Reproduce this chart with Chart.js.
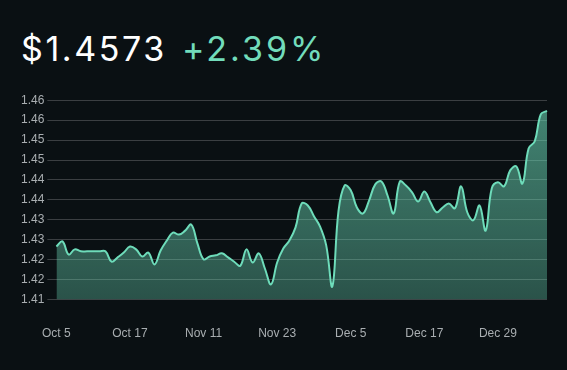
<!DOCTYPE html>
<html>
<head>
<meta charset="utf-8">
<script src="https://cdn.jsdelivr.net/npm/chart.js@4.4.1/dist/chart.umd.min.js"></script>
<style>
  html, body { margin: 0; padding: 0; background: #0a1013; }
  body { width: 567px; height: 370px; position: relative; overflow: hidden; font-family: Inter, "Noto Sans", sans-serif; }
  #head { position: absolute; left: 21px; top: 27px; font-size: 34px; line-height: 44px; color: #ffffff; white-space: nowrap; letter-spacing: 2.6px; }
  #head .chg { color: #72dcbb; margin-left: 15px; letter-spacing: 3px; }
  #priceChart { position: absolute; left: 0; top: 90px; }
</style>
</head>
<body>
<div id="head"><span>$1.4573</span><span class="chg">+2.39%</span></div>
<canvas id="priceChart" width="567" height="280"></canvas>
<script>
// daily closes, gap between Oct 28 and Nov 11
const dates = [
  'Oct 5', 'Oct 6', 'Oct 7', 'Oct 8', 'Oct 9', 'Oct 10', 'Oct 11', 'Oct 12', 'Oct 13', 'Oct 14',
  'Oct 15', 'Oct 16', 'Oct 17', 'Oct 18', 'Oct 19', 'Oct 20', 'Oct 21', 'Oct 22', 'Oct 23', 'Oct 24',
  'Oct 25', 'Oct 26', 'Oct 27', 'Oct 28', 'Nov 11', 'Nov 12', 'Nov 13', 'Nov 14', 'Nov 15', 'Nov 16',
  'Nov 17', 'Nov 18', 'Nov 19', 'Nov 20', 'Nov 21', 'Nov 22', 'Nov 23', 'Nov 24', 'Nov 25', 'Nov 26',
  'Nov 27', 'Nov 28', 'Nov 29', 'Nov 30', 'Dec 1', 'Dec 2', 'Dec 3', 'Dec 4', 'Dec 5', 'Dec 6',
  'Dec 7', 'Dec 8', 'Dec 9', 'Dec 10', 'Dec 11', 'Dec 12', 'Dec 13', 'Dec 14', 'Dec 15', 'Dec 16',
  'Dec 17', 'Dec 18', 'Dec 19', 'Dec 20', 'Dec 21', 'Dec 22', 'Dec 23', 'Dec 24', 'Dec 25', 'Dec 26',
  'Dec 27', 'Dec 28', 'Dec 29', 'Dec 30', 'Dec 31', 'Jan 1', 'Jan 2', 'Jan 3', 'Jan 4', 'Jan 5',
  'Jan 6'
];

const prices = [
  1.4233, 1.4246, 1.4213, 1.4226, 1.4221, 1.4221, 1.4221, 1.4221, 1.4221, 1.4195,
  1.4206, 1.4218, 1.4233, 1.4226, 1.4208, 1.4218, 1.4188, 1.4223, 1.4248, 1.4268,
  1.4263, 1.4273, 1.4288, 1.4241, 1.4201, 1.4208, 1.4211, 1.4216, 1.4206, 1.4195,
  1.4185, 1.4226, 1.4193, 1.4216, 1.4178, 1.4138, 1.4193, 1.4228, 1.4248, 1.4281,
  1.4341, 1.4336, 1.4309, 1.4283, 1.4236, 1.4133, 1.4322, 1.4386, 1.4374, 1.4331,
  1.4316, 1.4349, 1.4389, 1.4396, 1.4361, 1.4316, 1.4396, 1.4386, 1.4369, 1.4346,
  1.4371, 1.4344, 1.4319, 1.4331, 1.4341, 1.4329, 1.4384, 1.4319, 1.4299, 1.4336,
  1.4273, 1.4379, 1.4394, 1.4384, 1.4424, 1.4434, 1.4391, 1.4479, 1.4497, 1.4565,
  1.4573
];

const yTickLabels = ['1.41', '1.42', '1.42', '1.43', '1.43', '1.44', '1.44', '1.45', '1.45', '1.46', '1.46'];

const ctx = document.getElementById('priceChart');

const priceChart = new Chart(ctx, {
  type: 'line',
  data: {
    labels: dates,
    datasets: [{
      label: 'Price',
      data: prices,
      borderColor: '#6edcba',
      borderWidth: 2,
      pointRadius: 0,
      tension: 0.4,
      fill: 'start',
      backgroundColor: (c) => {
        const area = c.chart.chartArea;
        if (!area) return 'rgba(110,220,186,0.45)';
        const g = c.chart.ctx.createLinearGradient(0, area.top, 0, area.bottom);
        g.addColorStop(0, 'rgba(110,220,186,0.58)');
        g.addColorStop(1, 'rgba(110,220,186,0.33)');
        return g;
      }
    }]
  },
  options: {
    responsive: false,
    animation: false,
    layout: { padding: { left: 18, right: 20, top: 7, bottom: 26 } },
    plugins: { legend: { display: false }, tooltip: { enabled: false } },
    scales: {
      x: {
        // invisible tick marks only push the labels down
        grid: { display: true, drawOnChartArea: false, drawTicks: true, tickLength: 24, tickColor: 'rgba(0,0,0,0)' },
        border: { display: false },
        ticks: {
          autoSkip: false,
          maxRotation: 0,
          padding: 3,
          color: '#a9aeb1',
          font: { family: '"Liberation Sans", Arial, sans-serif', size: 12 },
          callback: (val, i) => (i % 12 === 0 ? dates[i] : '')
        }
      },
      y: {
        min: 1.41,
        max: 1.46,
        border: { display: false },
        grid: { color: 'rgba(255,255,255,0.2)', tickLength: 9 },
        ticks: {
          stepSize: 0.005,
          padding: 3,
          color: '#a9aeb1',
          font: { family: '"Liberation Sans", Arial, sans-serif', size: 12 },
          callback: (val, i) => yTickLabels[i]
        }
      }
    }
  }
});
</script>
</body>
</html>
